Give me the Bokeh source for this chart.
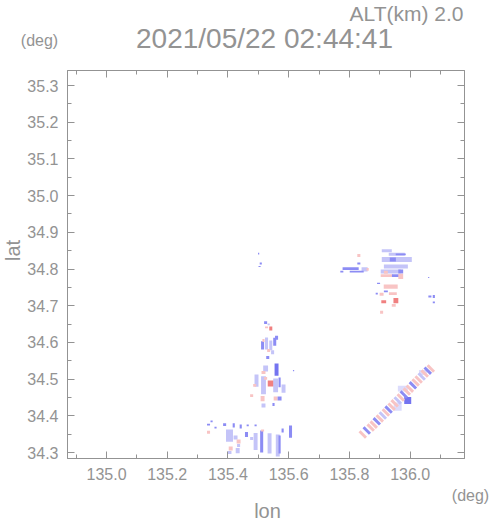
from math import pi
from bokeh.plotting import figure
from bokeh.layouts import column, row
from bokeh.models import (Range1d, LinearAxis, SingleIntervalTicker, PrintfTickFormatter,
                          CustomJSTickFormatter, Label, ColumnDataSource, LinearColorMapper)
from bokeh.embed import file_html
from bokeh.resources import INLINE

# ---- data: radar echo cells (lon, lat, extent in deg, Doppler-like value) ----
cell_lon = [135.336, 135.346, 135.336, 135.389, 135.405, 135.419, 135.425, 135.435, 135.435, 135.409,
            135.405, 135.432, 135.442, 135.461, 135.465, 135.491, 135.491, 135.511, 135.514, 135.537,
            135.564, 135.570, 135.580, 135.606, 135.359, 135.478,
            135.524, 135.534, 135.541, 135.527, 135.514, 135.527, 135.541, 135.554, 135.560, 135.547,
            135.531, 135.517, 135.534, 135.560, 135.524, 135.517, 135.494, 135.488, 135.517, 135.524,
            135.541, 135.557, 135.570, 135.583, 135.478, 135.514, 135.517, 135.557, 135.570, 135.550,
            135.616, 135.501, 135.508, 135.504,
            135.923, 135.956, 135.969, 135.956, 135.943, 135.953, 135.850, 135.860, 135.936, 135.920,
            135.969, 135.923, 135.953, 135.969, 135.896, 135.936, 135.943, 135.920, 135.906, 135.890,
            135.913, 135.953, 135.946, 135.906, 136.065, 136.078, 136.078, 136.061, 135.804, 135.824,
            135.831, 135.831, 135.775,
            135.992, 135.959, 135.976, 136.042]
cell_lat = [34.376, 34.385, 34.355, 34.376, 34.346, 34.374, 34.341, 34.330, 34.319, 34.311,
            34.300, 34.305, 34.371, 34.349, 34.374, 34.330, 34.374, 34.330, 34.360, 34.325,
            34.319, 34.322, 34.360, 34.357, 34.368, 34.338,
            34.654, 34.649, 34.638, 34.641, 34.592, 34.597, 34.592, 34.602, 34.613, 34.573,
            34.559, 34.605, 34.578, 34.526, 34.529, 34.518, 34.496, 34.483, 34.483, 34.502,
            34.488, 34.483, 34.491, 34.474, 34.455, 34.447, 34.428, 34.447, 34.447, 34.431,
            34.523, 34.842, 34.815, 34.807,
            34.850, 34.840, 34.840, 34.826, 34.826, 34.807, 34.799, 34.799, 34.793, 34.791,
            34.793, 34.782, 34.782, 34.780, 34.761, 34.752, 34.733, 34.739, 34.731, 34.733,
            34.711, 34.714, 34.701, 34.682, 34.725, 34.725, 34.709, 34.777, 34.801, 34.793,
            34.837, 34.815, 34.793,
            34.442, 34.425, 34.474, 34.518]
cell_dlon = [0.010, 0.007, 0.010, 0.010, 0.023, 0.007, 0.013, 0.013, 0.010, 0.013,
             0.013, 0.013, 0.007, 0.010, 0.007, 0.013, 0.007, 0.010, 0.010, 0.013,
             0.013, 0.007, 0.007, 0.010, 0.007, 0.010,
             0.010, 0.007, 0.010, 0.010, 0.010, 0.010, 0.010, 0.010, 0.010, 0.010,
             0.010, 0.007, 0.010, 0.013, 0.016, 0.013, 0.013, 0.010, 0.016, 0.010,
             0.020, 0.016, 0.007, 0.013, 0.010, 0.013, 0.013, 0.013, 0.013, 0.007,
             0.004, 0.004, 0.007, 0.007,
             0.033, 0.053, 0.033, 0.099, 0.020, 0.079, 0.020, 0.007, 0.066, 0.013,
             0.016, 0.040, 0.026, 0.016, 0.010, 0.046, 0.026, 0.013, 0.013, 0.007,
             0.016, 0.016, 0.013, 0.010, 0.010, 0.007, 0.007, 0.004, 0.053, 0.046,
             0.010, 0.010, 0.010,
             0.023, 0.026, 0.033, 0.026]
cell_dlat = [0.005, 0.005, 0.008, 0.008, 0.033, 0.011, 0.011, 0.011, 0.008, 0.011,
             0.008, 0.014, 0.011, 0.014, 0.005, 0.046, 0.005, 0.060, 0.005, 0.055,
             0.060, 0.049, 0.011, 0.033, 0.005, 0.008,
             0.008, 0.005, 0.011, 0.005, 0.022, 0.033, 0.027, 0.022, 0.011, 0.011,
             0.008, 0.008, 0.008, 0.033, 0.016, 0.008, 0.033, 0.008, 0.049, 0.008,
             0.016, 0.038, 0.027, 0.022, 0.008, 0.014, 0.011, 0.011, 0.011, 0.008,
             0.003, 0.005, 0.005, 0.003,
             0.008, 0.008, 0.005, 0.014, 0.011, 0.011, 0.011, 0.008, 0.011, 0.008,
             0.011, 0.008, 0.008, 0.014, 0.003, 0.011, 0.008, 0.005, 0.008, 0.005,
             0.008, 0.014, 0.008, 0.008, 0.005, 0.008, 0.005, 0.003, 0.008, 0.005,
             0.008, 0.005, 0.005,
             0.019, 0.022, 0.016, 0.014]
cell_val = [-4, -4, 2.5, -4, -2.5, -4, -2.5, 2.5, -2.5, 2.5,
            -2.5, -2.5, -4, -4, -4, -2.5, -4, -4, 2.5, -2.5,
            -2.5, -4, -4, -4, -4, -2.5,
            -4, -2.5, 4.5, 2.5, -4, -2.5, -2.5, -4, -4, -2.5,
            -4, 2.5, 2.5, -5.5, -2.5, 2.5, -2.5, 2.5, -2.5, 2.5,
            4.5, -2.5, -4, -2.5, 2.5, 2.5, -2.5, 2.5, -4, -4,
            -4, -4, -4, -4,
            -2.5, -2.5, -4, -2.5, -4, -2.5, -2.5, 2.5, -2.5, 2.5,
            -4, 2.5, -4, 2.5, -4, 2.5, 2.5, -4, 2.5, -4,
            4.5, 4.5, 2.5, 2.5, -4, -4, -4, -4, -4, -4,
            2.5, -4, -4,
            -5.5, -1, -1, -1]

# diagonal echo band (south-east of the area)
band_lon = [135.844, 135.857, 135.870, 135.880, 135.890, 135.900, 135.910, 135.920, 135.929, 135.939,
            135.949, 135.959, 135.969, 135.979, 135.989, 135.999, 136.009, 136.018, 136.028, 136.038,
            136.048, 136.058, 136.068]
band_lat = [34.349, 34.360, 34.368, 34.376, 34.385, 34.393, 34.401, 34.409, 34.417, 34.425,
            34.434, 34.442, 34.450, 34.458, 34.466, 34.474, 34.483, 34.491, 34.499, 34.507,
            34.515, 34.523, 34.529]
band_val = [2.5, -4, 2.5, 2.5, -4, 2.5, -2.5, 2.5, -4, 2.5,
            2.5, -2.5, 2.5, -4, 2.5, 2.5, -4, 2.5, 2.5, -2.5,
            2.5, -4, 2.5]

x_name = "lon"
y_name = "lat"
title_text = "2021/05/22 02:44:41"
alt_text = "ALT(km) 2.0"
unit_text = "(deg)"

FONT = "Liberation Sans"
GRAY = "#939393"

palette = ["#7474f0", "#8c8cf4", "#c4c4f8", "#dcdcfc", "#fcdcdc", "#f8c4c4", "#f4a0a0", "#f08080"]
mapper = LinearColorMapper(palette=palette, low=-6, high=6)

# ---------------- main map panel ----------------
p = figure(width=467, height=429,
           x_range=Range1d(134.8715, 136.179), y_range=Range1d(34.2837, 35.3409),
           output_backend="svg", toolbar_location=None,
           x_axis_type=None, y_axis_type=None,
           min_border_left=43, min_border_right=27, min_border_top=14, min_border_bottom=27)
p.outline_line_color = GRAY
p.background_fill_color = "white"
p.border_fill_color = "white"

src = ColumnDataSource(dict(x=cell_lon, y=cell_lat, w=cell_dlon, h=cell_dlat, v=cell_val))
p.rect(x="x", y="y", width="w", height="h", source=src,
       fill_color={"field": "v", "transform": mapper}, line_color=None)

bsrc = ColumnDataSource(dict(x=band_lon, y=band_lat, v=band_val))
p.rect(x="x", y="y", width=0.03, height=0.008, angle=-pi / 4, source=bsrc,
       fill_color={"field": "v", "transform": mapper}, line_color=None)

def make_axis(ticker, labels):
    fmt = PrintfTickFormatter(format="%.1f") if labels else CustomJSTickFormatter(code="return ''")
    ax = LinearAxis(ticker=ticker, formatter=fmt)
    ax.axis_line_color = GRAY
    ax.major_tick_line_color = GRAY
    ax.minor_tick_line_color = GRAY
    ax.major_tick_in = 7
    ax.major_tick_out = 0
    ax.minor_tick_in = 4
    ax.minor_tick_out = 0
    ax.major_label_text_font = FONT
    ax.major_label_text_color = GRAY
    if labels:
        ax.major_label_text_font_size = "16px"
        ax.major_label_standoff = 9
    else:
        ax.major_label_text_font_size = "1px"
        ax.major_label_standoff = 0
    return ax

xt = SingleIntervalTicker(interval=0.2, num_minor_ticks=2)
yt = SingleIntervalTicker(interval=0.1, num_minor_ticks=2)
p.add_layout(make_axis(xt, True), "below")
p.add_layout(make_axis(yt, True), "left")
p.add_layout(make_axis(xt, False), "above")
p.add_layout(make_axis(yt, False), "right")

# ---------------- text strips around the map ----------------
def strip(w, h):
    s = figure(width=w, height=h, x_range=Range1d(0, w), y_range=Range1d(h, 0),
               output_backend="svg", toolbar_location=None,
               x_axis_type=None, y_axis_type=None,
               min_border=0, min_border_left=0, min_border_right=0,
               min_border_top=0, min_border_bottom=0)
    s.outline_line_color = None
    s.background_fill_color = "white"
    s.border_fill_color = "white"
    s.xgrid.visible = False
    s.ygrid.visible = False
    return s

def lab(fig, x, y, text, size, align="center", baseline="middle", angle=0.0):
    fig.add_layout(Label(x=x, y=y, text=text, text_font=FONT, text_font_size=size,
                         text_color=GRAY, text_align=align, text_baseline=baseline, angle=angle))

top = strip(491, 56)
lab(top, 463, 12.5, alt_text, "21px", align="right")
lab(top, 264, 37.5, title_text, "28px")
lab(top, 39, 40, unit_text, "16px")

left = strip(24, 429)
lab(left, 12, 199, y_name, "20px", angle=pi / 2)

bottom = strip(491, 36)
lab(bottom, 470, 9.5, unit_text, "16px")
lab(bottom, 267, 36, x_name, "20px", baseline="bottom")

layout = column(top, row(left, p, spacing=0), bottom, spacing=0)

open("out.html", "w").write(file_html(layout, INLINE))
